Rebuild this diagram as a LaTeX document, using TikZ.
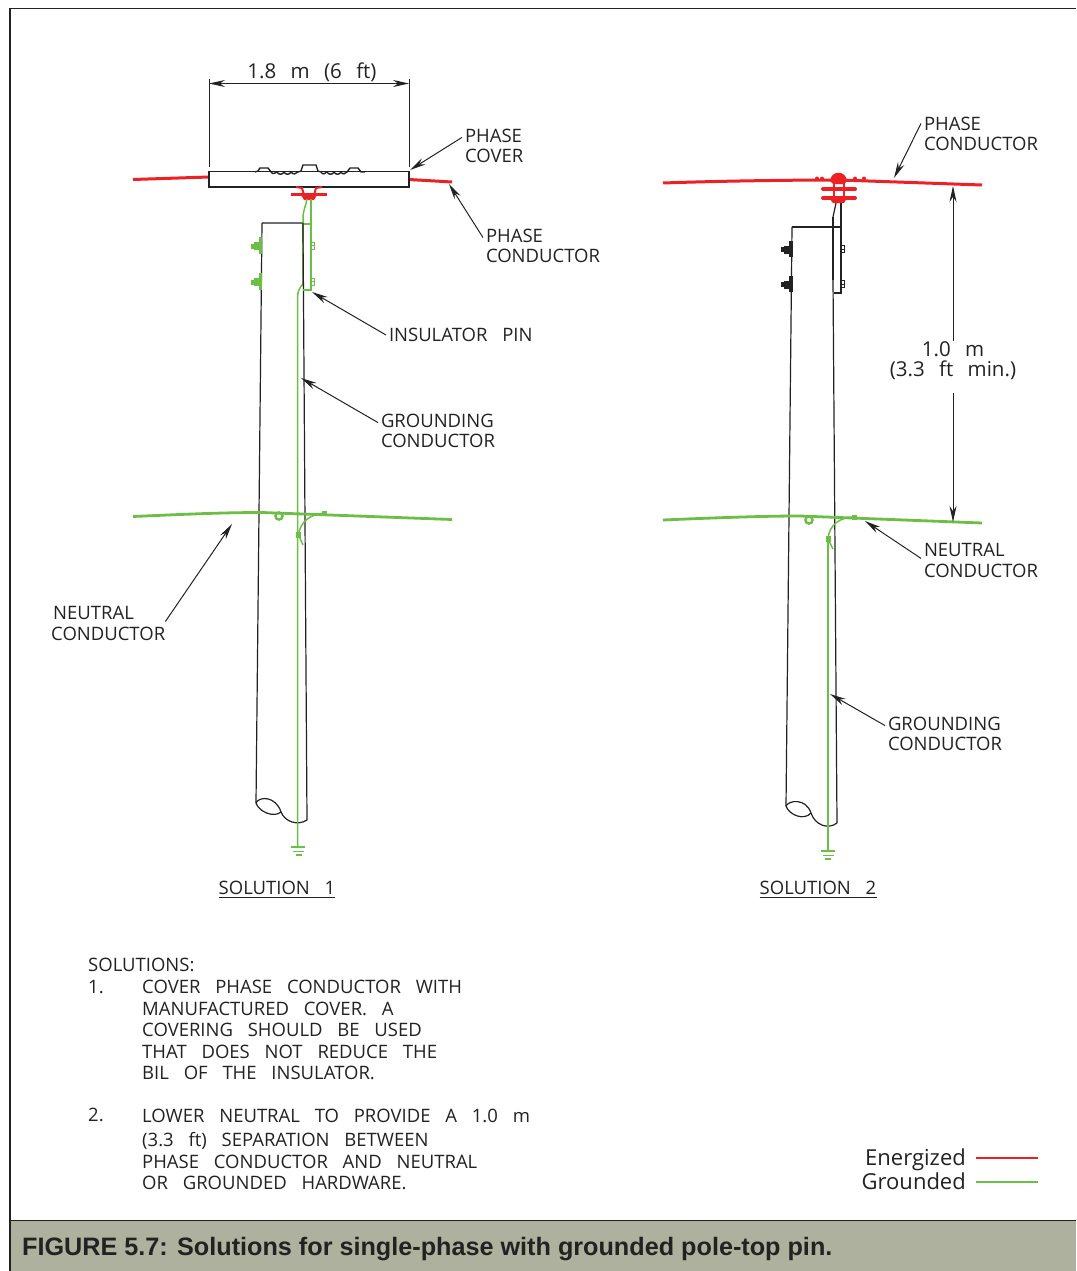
\documentclass[tikz,border=0pt]{standalone}
\usepackage{fontspec}
\usepackage{xcolor}
\usepackage{tikz}
\usetikzlibrary{calc,arrows.meta}
\setmainfont{Open Sans}
\newfontfamily\capfont{Liberation Sans}
\definecolor{ink}{HTML}{222222}
\definecolor{energized}{HTML}{ED2024}
\definecolor{grounded}{HTML}{6CBE45}
\definecolor{band}{HTML}{ADB19D}
\newcommand{\labfont}{\fontsize{18.5}{20.5}\selectfont\spaceskip=.8em\relax}
\newcommand{\dimfont}{\fontsize{20.5}{20}\selectfont\spaceskip=.7em\relax}
\tikzset{
  blackline/.style={draw=ink, line width=1.2pt},
  redline/.style={draw=energized, line width=3pt},
  greenline/.style={draw=grounded, line width=2.8pt},
  thingreen/.style={draw=grounded, line width=1.5pt},
  leader/.style={draw=ink, line width=1pt, -{Stealth[length=16pt,width=7pt]}},
  lab/.style={text=ink, font=\labfont, inner sep=0pt, align=left, anchor=west},
  leadlab/.style={lab, outer xsep=3pt},
  dimlab/.style={lab, font=\dimfont, anchor=center, align=center},
  leglab/.style={lab, font={\fontsize{22}{24}\selectfont}, anchor=base east},
}
\begin{document}
\begin{tikzpicture}[x=1pt,y=-1pt]
\useasboundingbox (0,0) rectangle (1076,1271);
% frame and caption
\fill[band] (10,1220.5) rectangle (1076,1271);
\draw[blackline] (1076,8.5) -- (10,8.5) -- (10,1271);
\draw[blackline] (10,1220.5) -- (1076,1220.5);
\node[anchor=west, inner sep=0pt, text=ink, font={\capfont\bfseries\fontsize{25.2}{27}\selectfont}] (figcap) at (22,1249) {FIGURE 5.7: Solutions for single-phase with grounded pole-top pin.};

% solution 1 pole
\draw[blackline] (262,223) -- (303,223) -- (307,820);
\draw[blackline] (262,223) -- (256,803);
\draw[blackline] (256,803) .. controls (259,796) and (276,796) .. (281,812);
\draw[blackline] (256,803) .. controls (259,812) and (274,818) .. (281,812);
\draw[blackline] (281,812) .. controls (285,822) and (298,826) .. (307,820);
% solution 1 cover
\draw[redline] (133,179.5) -- (209,177);
\draw[redline] (409,179.5) -- (452,182);
\draw[blackline, line width=1.4pt] (209,171.5) rectangle (409,187);
\draw[blackline, line width=1.4pt] (255,172) -- (258,171) -- (260,168) -- (268,168) -- (271,172)
  .. controls (273,175) and (275,173) .. (277,172) .. controls (279,175) and (282,175) .. (284,172)
  .. controls (286,175) and (289,175) .. (291,172) .. controls (293,175) and (296,174) .. (298,172)
  -- (301,171) -- (303,165) -- (316,165) -- (318,171) -- (321,172)
  .. controls (323,175) and (325,174) .. (327,172) .. controls (329,175) and (332,175) .. (334,172)
  .. controls (336,175) and (339,175) .. (341,172) .. controls (343,175) and (345,174) .. (347,172)
  -- (350,168) -- (358,168) -- (361,172) -- (365,172);
% solution 1 insulator
\draw[redline] (291,194.5) -- (327,194.5);
\draw[draw=energized, line width=2pt] (296,187) -- (302,188) -- (304,195);
\draw[draw=energized, line width=2pt] (322,187) -- (316,188) -- (314,195);
\fill[energized] (301,195) -- (317,195) -- (314,200) -- (304,200) -- cycle;
% solution 1 pin and ground wire
\draw[thingreen] (311,199) -- (311,290) -- (303,290);
\draw[thingreen] (303,224) -- (311,224);
\draw[thingreen] (307,199) .. controls (306,206) and (303,210) .. (303,218) -- (303,284) .. controls (299,288) and (297,293) .. (297.5,300) -- (297.5,847);
\draw[thingreen] (291,847) -- (305,847) (293,851.5) -- (304,851.5) (296,855) -- (302,855);
\draw[blackline] (303,223) -- (303.3,286);
\foreach \y in {237,273} {
  \fill[grounded] (259,\y) rectangle (262,\y+17);
  \fill[grounded] (254,\y+5) rectangle (259,\y+13);
  \fill[grounded] (251,\y+6.5) rectangle (254,\y+11.5);
  \draw[draw=grounded, line width=0.8pt] (311,\y+5) rectangle (314,\y+8.5) (311,\y+8.5) rectangle (314,\y+12);
}
% solution 1 neutral
\draw[greenline] (133,516.5) .. controls (180,514.5) and (220,512.5) .. (262,512.5) -- (452,519.5);
\draw[draw=grounded, line width=2.4pt] (279,516) circle (3.6);
\draw[thingreen] (325,513) .. controls (310,514) and (300,522) .. (298.5,535) -- (303,545);
\fill[grounded] (322,511) rectangle (327,516);
\fill[grounded] (296,532) rectangle (301,538);

% solution 2 pole
\draw[blackline] (792,227) -- (841,227);
\draw[blackline, line width=1.8pt] (833,217) -- (833,280);
\draw[blackline] (833,280) -- (837,823);
\draw[blackline] (792,227) -- (786,806);
\draw[blackline] (786,806) .. controls (789,800) and (806,798) .. (811,813);
\draw[blackline] (786,806) .. controls (789,815) and (804,821) .. (811,813);
\draw[blackline] (811,813) .. controls (815,825) and (828,830) .. (837,823);
\draw[blackline] (841,203) -- (841,293) -- (833.5,293);
\draw[blackline] (836,203) -- (833,217);
\foreach \y in {241,276} {
  \fill[ink] (789,\y) rectangle (792.5,\y+16);
  \fill[ink] (784,\y+4.5) rectangle (789,\y+12.5);
  \fill[ink] (781,\y+6) rectangle (784,\y+11);
  \draw[draw=ink, line width=0.8pt] (841,\y+4.5) rectangle (844,\y+8) (841,\y+8) rectangle (844,\y+11.5);
}
% solution 2 insulator
\draw[redline] (663,183) .. controls (720,181) and (790,180) .. (840,180) -- (982,185);
\fill[energized] (830,181) .. controls (831,170) and (846,170) .. (847,181) -- (844,184) -- (833,184) -- cycle;
\draw[draw=energized, line width=4pt, line cap=round] (823,189) -- (855,189);
\draw[draw=energized, line width=4pt, line cap=round] (823,198) -- (855,198);
\draw[draw=energized, line width=1.8pt] (834,181) -- (834,198) (844,181) -- (844,198);
\fill[energized] (829,198) -- (847,198) -- (844,203) -- (833,203) -- cycle;
\foreach \x in {817,822,855,864} {
  \fill[energized] (\x,178.5) circle (2);
}
% solution 2 neutral and ground wire
\draw[greenline] (663,520) .. controls (710,518) and (760,516) .. (800,516) -- (982,523);
\draw[draw=grounded, line width=2.4pt] (809,520) circle (3.6);
\draw[thingreen] (854,517) .. controls (840,517) and (829,525) .. (828,539) -- (833,549);
\fill[grounded] (851.5,514.5) rectangle (856.5,519.5);
\fill[grounded] (825.5,536) rectangle (830.5,542);
\draw[thingreen] (828,539) -- (828,851);
\draw[thingreen] (821,851) -- (835,851) (823,855.5) -- (834,855.5) (825,859) -- (831,859);

% dimensions
\node[dimlab] (topdimlab) at (312,72) {1.8 m (6 ft)};
\coordinate (topdimL) at (209,83.5);
\coordinate (topdimR) at (409,83.5);
\draw[blackline, line width=1pt] (209,79) -- (209,167);
\draw[blackline, line width=1pt] (409,79) -- (409,167);
\draw[leader, {Stealth[length=16pt,width=7pt]}-{Stealth[length=16pt,width=7pt]}] (topdimL) -- (topdimR);
\node[dimlab] (rightdimlab) at (953,361) {1.0 m\\(3.3 ft min.)};
\coordinate (rightdimT) at (953,186);
\coordinate (rightdimB) at (953,522);
\draw[leader] ($(rightdimlab.north)+(0,-1)$) -- (rightdimT);
\draw[leader] ($(rightdimlab.south)+(0,13)$) -- (rightdimB);

% labels
\node[leadlab] (phcover) at (462,146) {PHASE\\COVER};
\node[leadlab] (phcond) at (483,246) {PHASE\\CONDUCTOR};
\node[leadlab] (pinlab) at (386,335) {INSULATOR PIN};
\node[leadlab] (gndlab) at (378,431) {GROUNDING\\CONDUCTOR};
\node[lab] (neutlab) at (51,623.5) {\hspace*{2pt}NEUTRAL\\CONDUCTOR};
\node[leadlab] (phcondb) at (921,134) {PHASE\\CONDUCTOR};
\node[leadlab] (neutlabb) at (921,560.5) {NEUTRAL\\CONDUCTOR};
\node[leadlab] (gndlabb) at (885,734) {GROUNDING\\CONDUCTOR};
\node[lab, anchor=center] (solone) at (277,888) {SOLUTION 1};
\node[lab, anchor=center] (soltwo) at (818,888) {SOLUTION 2};
\draw[blackline, line width=1pt] (solone.south west) ++(0,2) -- ($(solone.south east)+(0,2)$);
\draw[blackline, line width=1pt] (soltwo.south west) ++(0,2) -- ($(soltwo.south east)+(0,2)$);

% leaders
\coordinate (covertip) at (410,170);
\coordinate (condtip) at (449,184);
\coordinate (pintip) at (312,292);
\coordinate (gndtip) at (301,378);
\coordinate (neuttip) at (232,524);
\coordinate (condtipb) at (894,178);
\coordinate (neuttipb) at (865,521);
\coordinate (gndtipb) at (830,694);
\draw[leader] (phcover.165) -- (covertip);
\draw[leader] (phcond.172) -- (condtip);
\draw[leader] (pinlab.west) -- (pintip);
\draw[leader] (gndlab.172) -- (gndtip);
\draw[leader] (neutlab.-2) ++(0,-4) -- (neuttip);
\draw[leader] (phcondb.170) -- (condtipb);
\draw[leader] (neutlabb.178) -- (neuttipb);
\draw[leader] (gndlabb.172) -- (gndtipb);

% notes
\node[lab] (solhead) at (88,965) {SOLUTIONS:};
\node[lab] (numone) at (88,987) {1.};
\node[lab] (noteone) at (142,1030) {COVER PHASE CONDUCTOR WITH\\[1pt]MANUFACTURED COVER. A\\[1pt]COVERING SHOULD BE USED\\[1pt]THAT DOES NOT REDUCE THE\\[1pt]BIL OF THE INSULATOR.};
\node[lab] (numtwo) at (88,1115) {2.};
\node[lab] (notetwo) at (142,1149.5) {LOWER NEUTRAL TO PROVIDE A 1.0 m\\[4pt](3.3 ft) SEPARATION BETWEEN\\[1pt]PHASE CONDUCTOR AND NEUTRAL\\[1pt]OR GROUNDED HARDWARE.};

% legend
\node[leglab] (enlab) at (966,1165.5) {Energized};
\node[leglab] (grlab) at (966,1189.5) {Grounded};
\coordinate (enend) at (1038,1158);
\coordinate (grend) at (1038,1182);
\draw[draw=energized, line width=1.6pt] (976,1158) -- (enend);
\draw[draw=grounded, line width=1.6pt] (976,1182) -- (grend);
\end{tikzpicture}
\end{document}
